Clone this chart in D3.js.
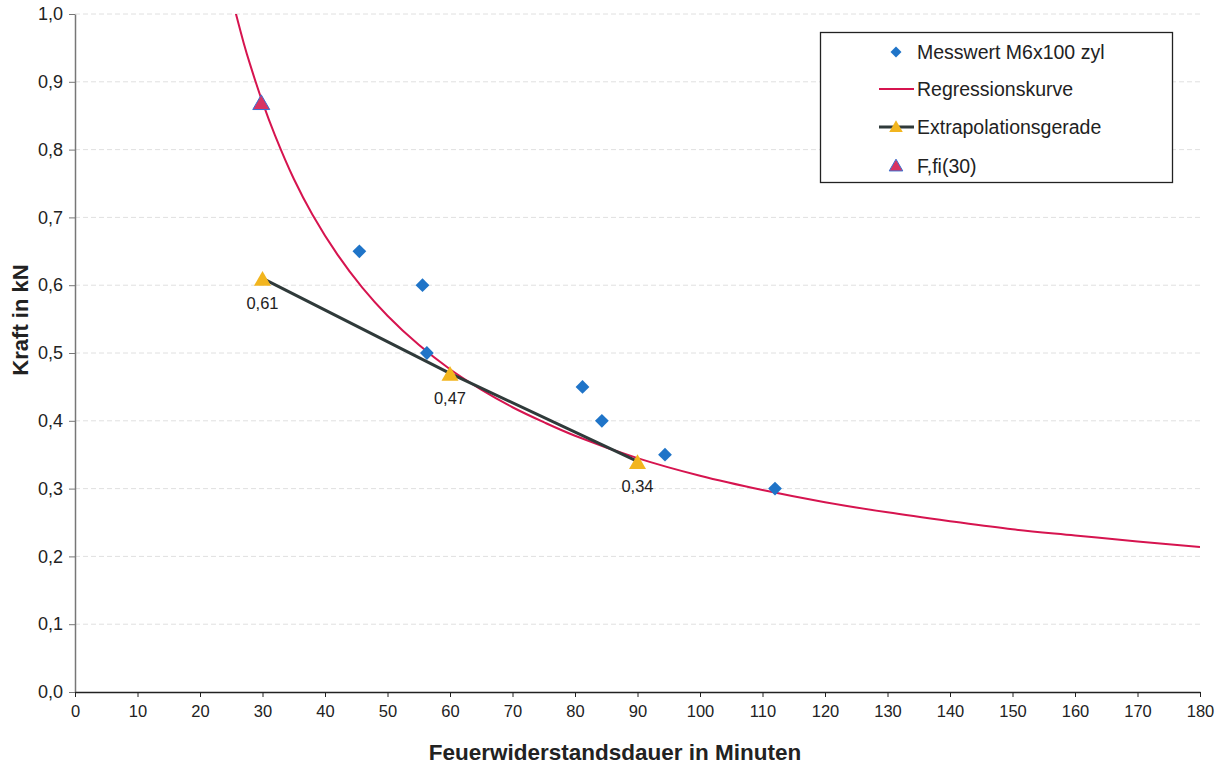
<!DOCTYPE html>
<html>
<head>
<meta charset="utf-8">
<script src="https://cdn.jsdelivr.net/npm/d3@7"></script>
<style>
  html, body { margin: 0; padding: 0; background: #fff; }
  svg { display: block; font-family: Arial, "Liberation Sans", sans-serif; }
</style>
</head>
<body>
<svg id="chart" width="1228" height="766"></svg>
<script>
// ---- data ----
const xTicks = [0,10,20,30,40,50,60,70,80,90,100,110,120,130,140,150,160,170,180];
const yTicks = [0,0.1,0.2,0.3,0.4,0.5,0.6,0.7,0.8,0.9,1.0];
const messX = [45.5, 55.6, 56.3, 81.2, 84.3, 94.4, 112.0];
const messY = [0.65, 0.60, 0.50, 0.45, 0.40, 0.35, 0.30];
const regX = [25, 27, 28, 30, 32, 35, 38, 42, 46, 50, 55, 60, 65, 70, 75, 80, 90, 100, 110, 120, 130, 140, 150, 160, 170, 180];
const regY = [1.027, 0.957, 0.926, 0.870, 0.821, 0.757, 0.704, 0.645, 0.596, 0.555, 0.512, 0.476, 0.446, 0.420, 0.398, 0.378, 0.345, 0.319, 0.298, 0.280, 0.265, 0.252, 0.240, 0.231, 0.222, 0.214];
const extraX = [30, 60, 90];
const extraY = [0.61, 0.47, 0.34];
const extraLabels = ["0,61", "0,47", "0,34"];
const ffiX = [29.8];
const ffiY = [0.87];
const legendLabels = ["Messwert M6x100 zyl", "Regressionskurve", "Extrapolationsgerade", "F,fi(30)"];

// ---- layout ----
const FONT = "Arial, 'Liberation Sans', sans-serif";
const svg = d3.select("#chart");
const L = 75, R = 1200, T = 14, B = 692;
const x = d3.scaleLinear().domain([0,180]).range([L,R]);
const y = d3.scaleLinear().domain([0,1]).range([B,T]);
const fmt = d => d3.format(".1f")(d).replace(".", ",");

const cBlue = "#1f74c8", cRed = "#d6144f", cYellow = "#f2b51e", cDark = "#2f3a3a";

// gridlines
svg.append("g").selectAll("line").data(yTicks.filter(d => d > 0)).join("line")
  .attr("x1", L).attr("x2", R).attr("y1", d => y(d)).attr("y2", d => y(d))
  .attr("stroke", "#e0e0e0").attr("stroke-width", 1).attr("stroke-dasharray", "5,3");

// axes
const yAxis = svg.append("g").attr("transform", `translate(${L},0)`)
  .call(d3.axisLeft(y).tickValues(yTicks).tickFormat(fmt).tickSize(6).tickSizeOuter(0))
  .attr("font-family", FONT);
yAxis.select(".domain").attr("stroke", "#777").attr("stroke-width", 1.5);
yAxis.selectAll(".tick line").attr("stroke", "#777");
yAxis.selectAll("text").attr("font-size", 18).attr("fill", "#222").attr("x", -12);

const xAxis = svg.append("g").attr("transform", `translate(0,${B})`)
  .call(d3.axisBottom(x).tickValues(xTicks).tickFormat(d3.format("d")).tickSize(5).tickSizeOuter(0))
  .attr("font-family", FONT);
xAxis.select(".domain").attr("stroke", "#222").attr("stroke-width", 1.5);
xAxis.selectAll(".tick line").attr("stroke", "#222");
xAxis.selectAll("text").attr("font-size", 16.5).attr("fill", "#222").attr("y", 13);

// axis titles
svg.append("text").attr("x", 615).attr("y", 760).attr("text-anchor", "middle")
  .attr("font-size", 22.5).attr("font-weight", "bold").attr("fill", "#222")
  .text("Feuerwiderstandsdauer in Minuten");
svg.append("text").attr("transform", "translate(28,320) rotate(-90)").attr("text-anchor", "middle")
  .attr("font-size", 22).attr("font-weight", "bold").attr("fill", "#222")
  .text("Kraft in kN");

// clip
svg.append("clipPath").attr("id", "clip").append("rect")
  .attr("x", L).attr("y", T).attr("width", R-L).attr("height", B-T);

// regression curve
const regData = regX.map((v,i) => [v, regY[i]]);
svg.append("path").datum(regData).attr("clip-path", "url(#clip)")
  .attr("fill", "none").attr("stroke", cRed).attr("stroke-width", 2)
  .attr("d", d3.line().x(d => x(d[0])).y(d => y(d[1])).curve(d3.curveCatmullRom.alpha(0.5)));

// extrapolation line
const exData = extraX.map((v,i) => [v, extraY[i]]);
svg.append("path").datum(exData).attr("fill", "none").attr("stroke", cDark).attr("stroke-width", 3)
  .attr("d", d3.line().x(d => x(d[0])).y(d => y(d[1])));

// symbols
const diamond = d3.symbol().type(d3.symbolSquare).size(95);
const tri = d3.symbol().type(d3.symbolTriangle).size(125);

svg.append("g").selectAll("path").data(messX.map((v,i) => [v, messY[i]])).join("path")
  .attr("d", diamond)
  .attr("transform", d => `translate(${x(d[0])},${y(d[1])}) rotate(45)`)
  .attr("fill", cBlue);

svg.append("g").selectAll("path").data(exData).join("path")
  .attr("d", tri)
  .attr("transform", d => `translate(${x(d[0])},${y(d[1]) + 2.5})`)
  .attr("fill", cYellow);

svg.append("g").selectAll("text").data(exData).join("text")
  .attr("x", d => x(d[0])).attr("y", d => y(d[1]) + 31)
  .attr("text-anchor", "middle").attr("font-size", 16.5).attr("fill", "#222")
  .text((d,i) => extraLabels[i]);

svg.append("g").selectAll("path").data(ffiX.map((v,i) => [v, ffiY[i]])).join("path")
  .attr("d", tri)
  .attr("transform", d => `translate(${x(d[0])},${y(d[1]) + 2.5})`)
  .attr("fill", "#d83462").attr("stroke", "#3b6fd0").attr("stroke-width", 1);

// legend
const lg = svg.append("g");
lg.append("rect").attr("x", 820.5).attr("y", 32.5).attr("width", 352).attr("height", 150)
  .attr("fill", "#fff").attr("stroke", "#222").attr("stroke-width", 1.3);
const rowsY = [52, 89, 127, 166];
const tx = 917;
lg.selectAll("text").data(legendLabels).join("text")
  .attr("x", tx).attr("y", (d,i) => rowsY[i]).attr("dy", "0.36em")
  .attr("font-size", 19.5).attr("fill", "#222").text(d => d);
lg.append("path").attr("d", d3.symbol().type(d3.symbolSquare).size(60))
  .attr("transform", `translate(896,${rowsY[0]}) rotate(45)`).attr("fill", cBlue);
lg.append("line").attr("x1", 879).attr("x2", 914).attr("y1", rowsY[1]).attr("y2", rowsY[1])
  .attr("stroke", cRed).attr("stroke-width", 2);
lg.append("line").attr("x1", 879).attr("x2", 914).attr("y1", rowsY[2]).attr("y2", rowsY[2])
  .attr("stroke", cDark).attr("stroke-width", 3);
lg.append("path").attr("d", d3.symbol().type(d3.symbolTriangle).size(80))
  .attr("transform", `translate(896,${rowsY[2]+1})`).attr("fill", cYellow);
lg.append("path").attr("d", d3.symbol().type(d3.symbolTriangle).size(80))
  .attr("transform", `translate(896,${rowsY[3]+1})`).attr("fill", "#d83462").attr("stroke", "#3b6fd0").attr("stroke-width", 1);
</script>
</body>
</html>
